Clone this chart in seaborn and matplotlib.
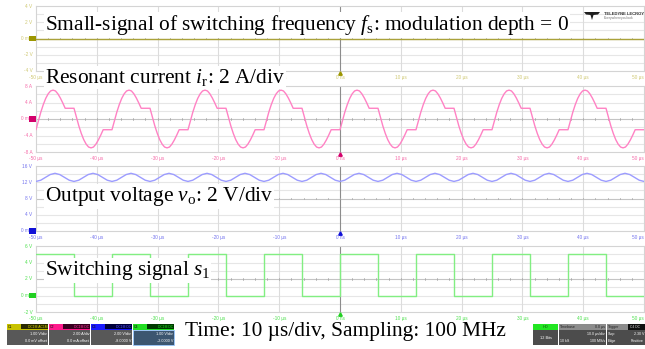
import numpy as np
import pandas as pd
import matplotlib
matplotlib.use("Agg")
import matplotlib.pyplot as plt
import matplotlib.transforms as mtransforms
from matplotlib.patches import Rectangle, Polygon
import seaborn as sns

# ---------------------------------------------------------------- data
# rising edges of the switching signal s1 inside the 100 µs window (µs)
EDGE_TIMES_US = [-50.0, -37.5, -25.0, -12.5, 0.0, 12.5, 25.0, 37.5]

# one switching period of the resonant current, offset from the rising edge
CURRENT_T_US = [0.0, 0.4, 0.8, 1.2, 1.6, 2.0, 2.4, 2.8, 3.2, 3.6, 4.0, 4.4, 4.8,
                6.25, 6.65, 7.05, 7.45, 7.85, 8.25, 8.65, 9.05, 9.45, 9.85,
                10.25, 10.65, 11.05, 12.5]
CURRENT_A = [-2.6, -0.4, 1.7, 3.5, 5.0, 6.1, 6.8, 7.0, 6.8, 6.1, 5.1, 3.9, 2.6,
             2.6, 0.4, -1.7, -3.5, -5.0, -6.1, -6.8, -7.0, -6.8, -6.1,
             -5.1, -3.9, -2.6, -2.6]

# output voltage over one switching period (two ripple cycles)
VOUT_T_US = [0.0, 0.78, 1.56, 2.34, 3.125, 3.9, 4.69, 5.47, 6.25,
             7.03, 7.81, 8.59, 9.375, 10.16, 10.94, 11.72, 12.5]
VOUT_V = [12.2, 12.5, 13.2, 13.9, 14.2, 13.9, 13.2, 12.5, 12.2,
          12.5, 13.2, 13.9, 14.2, 13.9, 13.2, 12.5, 12.2]

# switching signal s1 over one period
S1_T_US = [0.0, 6.25, 6.25, 12.5]
S1_V = [5.0, 5.0, 0.0, 0.0]

# channel 1: small-signal fs input (modulation depth 0)
CH1_T_US = [-50.0, 50.0]
CH1_V = [0.0, 0.0]

X_TICKS = [-50, -40, -30, -20, -10, 0, 10, 20, 30, 40, 50]
X_LABELS = ["-50 µs", "-40 µs", "-30 µs", "-20 µs", "-10 µs", "0 ns",
            "10 µs", "20 µs", "30 µs", "40 µs", "50 µs"]


def periodic_frame(edges, offsets, values):
    ts, vs = [], []
    for e in edges:
        ts += [e + o for o in offsets]
        vs += list(values)
    return pd.DataFrame({"t": ts, "v": vs})


traces = [
    pd.DataFrame({"t": CH1_T_US, "v": CH1_V}),
    periodic_frame(EDGE_TIMES_US, CURRENT_T_US, CURRENT_A),
    periodic_frame(EDGE_TIMES_US, VOUT_T_US, VOUT_V),
    periodic_frame(EDGE_TIMES_US, S1_T_US, S1_V),
]

# ---------------------------------------------------------------- styling
sns.set_style("white")
plt.rcParams["font.family"] = ["Liberation Sans", "DejaVu Sans"]
plt.rcParams["mathtext.fontset"] = "custom"
plt.rcParams["mathtext.rm"] = "Liberation Serif"
plt.rcParams["mathtext.it"] = "Liberation Serif:italic"

W, H = 645, 349
fig = plt.figure(figsize=(W / 100, H / 100), dpi=100)
fig.patch.set_facecolor("white")

X0, X1 = 36, 644
channels = [
    dict(top=6, bottom=71, ylim=(-4, 4), yt=[4, 2, 0, -2, -4],
         yl=["4 V", "2 V", "0 mV", "-2 V", "-4 V"], zero=0,
         line="#aaa23a", lab="#cfc872", mark="#9c9600", lw=1.0),
    dict(top=86, bottom=152, ylim=(-8, 8), yt=[8, 4, 0, -4, -8],
         yl=["8 A", "4 A", "0 mA", "-4 A", "-8 A"], zero=0,
         line="#ff82c4", lab="#f56aa8", mark="#d3006c", lw=1.0),
    dict(top=166, bottom=231, ylim=(0, 16), yt=[16, 12, 8, 4, 0],
         yl=["16 V", "12 V", "8 V", "4 V", "0 mV"], zero=0,
         line="#9c9cff", lab="#7272ee", mark="#1010d8", lw=1.0),
    dict(top=246, bottom=312, ylim=(-2, 6), yt=[6, 4, 2, 0, -2],
         yl=["6 V", "4 V", "2 V", "0 mV", "-2 V"], zero=0,
         line="#82ee82", lab="#4ee04e", mark="#22d022", lw=1.0),
]

for ch, df in zip(channels, traces):
    ax = fig.add_axes([X0 / W, 1 - ch["bottom"] / H,
                       (X1 - X0) / W, (ch["bottom"] - ch["top"]) / H])
    lo, hi = ch["ylim"]
    div = (hi - lo) / 8
    # graticule
    for k in range(1, 8):
        y = lo + k * div
        ax.axhline(y, color="#c4c4c4" if k == 4 else "#e6e6e6",
                   lw=0.8, zorder=1)
    for xv in X_TICKS[1:-1]:
        ax.axvline(xv, color="#8c8c8c" if xv == 0 else "#dcdcdc",
                   lw=0.8, zorder=1)
    mid = lo + 4 * div
    for xm in np.arange(-48, 50, 2):
        ax.plot([xm, xm], [mid - div * 0.12, mid + div * 0.12],
                color="#a8a8a8", lw=0.6, zorder=1)

    sns.lineplot(data=df, x="t", y="v", ax=ax, sort=False, estimator=None,
                 color=ch["line"], lw=ch["lw"], zorder=3)

    ax.set_xlim(-50, 50)
    ax.set_ylim(lo, hi)
    ax.set_xlabel("")
    ax.set_ylabel("")
    ax.set_xticks([])
    ax.set_yticks([])
    for s in ax.spines.values():
        s.set_color("#d4d4d4")
        s.set_linewidth(0.8)

    # axis annotations
    blend_y = mtransforms.blended_transform_factory(ax.transAxes, ax.transData)
    for yv, txt in zip(ch["yt"], ch["yl"]):
        ax.text(-0.006, yv, txt, transform=blend_y, ha="right", va="center",
                fontsize=3.4, color=ch["lab"], clip_on=False)
    blend_x = mtransforms.blended_transform_factory(ax.transData, ax.transAxes)
    for xv, txt in zip(X_TICKS, X_LABELS):
        ax.text(xv, -0.06, txt, transform=blend_x,
                ha="right" if xv == X_TICKS[-1] else "center", va="top",
                fontsize=3.4, color=ch["lab"], clip_on=False)
    ax.plot([0], [-0.03], marker="^", ms=2.5, color=ch["mark"],
            transform=blend_x, clip_on=False, zorder=5)
    # channel ground marker
    ax.add_patch(Rectangle((-0.012, ch["zero"] - div * 0.35), 0.012, div * 0.7,
                           transform=blend_y, facecolor=ch["mark"],
                           edgecolor="none", clip_on=False, zorder=6))

# ---------------------------------------------------------------- captions
serif = dict(family="Liberation Serif", fontsize=15.4, color="black",
             va="baseline", ha="left",
             bbox=dict(facecolor="white", edgecolor="none", pad=0.5))


def px_text(x, y, s, **kw):
    fig.text(x / W, 1 - y / H, s, **kw)


px_text(45, 30, r"Small-signal of switching frequency $\mathit{f}_\mathrm{s}$: modulation depth = 0", **serif)
px_text(45, 83, r"Resonant current $\mathit{i}_\mathrm{r}$: 2 A/div", **serif)
px_text(45, 201, r"Output voltage $\mathit{v}_\mathrm{o}$: 2 V/div", **serif)
px_text(45, 275, r"Switching signal $\mathit{s}_1$", **serif)
px_text(185, 336, "Time: 10 µs/div, Sampling: 100 MHz", **serif)


# vendor mark
def px_poly(pts, fc):
    fig.add_artist(Polygon([(x / W, 1 - y / H) for x, y in pts], closed=True,
                           transform=fig.transFigure, facecolor=fc,
                           edgecolor="none"))


px_poly([(584, 12), (600, 12), (598, 14.5), (593.5, 15), (592, 20),
         (590.5, 15), (586, 14.5)], "#1e1e1e")
px_text(604, 14, "TELEDYNE LECROY", fontsize=3.0, color="#333333",
        va="center", ha="left", fontweight="bold")
px_text(604, 18, "Everywhereyoulook", fontsize=2.4, color="#777777",
        va="center", ha="left")


# ---------------------------------------------------------------- status bar
def px_rect(x0, y0, x1, y1, fc, ec="none", lw=0.0):
    fig.add_artist(Rectangle((x0 / W, 1 - y1 / H), (x1 - x0) / W, (y1 - y0) / H,
                             transform=fig.transFigure, facecolor=fc,
                             edgecolor=ec, lw=lw))


boxes = [
    ("C1", "#c8c200", "#2a2a00", "#d8d000", "DC1M AC1M", "1.00 V/div", "0.0 mV offset", "#585858"),
    ("C2", "#ff1a8c", "#3a0020", "#ff3a9c", "DC1M DC", "2.00 A/div", "0.0 mA offset", "#585858"),
    ("C3", "#1a1aff", "#00003a", "#5a5aff", "DC1M DC", "2.00 V/div", "-8.0000 V", "#585858"),
    ("C4", "#22dd22", "#003a00", "#22dd22", "DC1M DC", "1.00 V/div", "-2.0000 V", "#3c5670"),
]
bx = 7
for name, head, badge, btxt, coup, scale, offs, body in boxes:
    px_rect(bx, 324, bx + 41, 329.5, head)
    px_rect(bx + 14, 324.3, bx + 40.5, 329.2, badge)
    px_text(bx + 1, 327, name, fontsize=2.6, color="#111111", va="center")
    px_text(bx + 40, 327, coup, fontsize=2.4, color=btxt, va="center", ha="right")
    px_rect(bx, 329.5, bx + 41, 345, body,
            ec="#9ac8ff" if name == "C4" else "none", lw=0.6)
    px_text(bx + 40, 334, scale, fontsize=2.7, color="white", va="center", ha="right")
    px_text(bx + 40, 341, offs, fontsize=2.7, color="white", va="center", ha="right")
    bx += 42

# acquisition / timebase / trigger panels
px_rect(533, 324, 558, 330, "#22e622")
px_text(545.5, 327, "HD", fontsize=2.8, color="#115511", va="center", ha="center")
px_rect(533, 330, 558, 345, "#4c4c4c")
px_text(545.5, 338, "12 Bits", fontsize=2.8, color="white", va="center", ha="center")

px_rect(558.5, 324, 606, 330, "#8c8c8c")
px_text(560, 327, "Timebase", fontsize=2.6, color="#222222", va="center")
px_text(605, 327, "0.0 µs", fontsize=2.6, color="#222222", va="center", ha="right")
px_rect(558.5, 330, 606, 345, "#4c4c4c")
px_text(605, 334, "10.0 µs/div", fontsize=2.6, color="white", va="center", ha="right")
px_text(560, 341, "10 kS", fontsize=2.6, color="white", va="center")
px_text(605, 341, "100 MS/s", fontsize=2.6, color="white", va="center", ha="right")

px_rect(606.5, 324, 645, 330, "#8c8c8c")
px_text(608, 327, "Trigger", fontsize=2.6, color="#222222", va="center")
px_rect(628, 324.3, 645, 329.7, "#111111")
px_text(630, 327, "C4 DC", fontsize=2.4, color="#dddddd", va="center")
px_rect(606.5, 330, 645, 345, "#4c4c4c")
px_text(608, 334, "Stop", fontsize=2.6, color="white", va="center")
px_text(644, 334, "2.30 V", fontsize=2.6, color="white", va="center", ha="right")
px_text(608, 341, "Edge", fontsize=2.6, color="white", va="center")
px_text(644, 341, "Positive", fontsize=2.6, color="white", va="center", ha="right")

fig.savefig("out.png", dpi=100, facecolor="white")
